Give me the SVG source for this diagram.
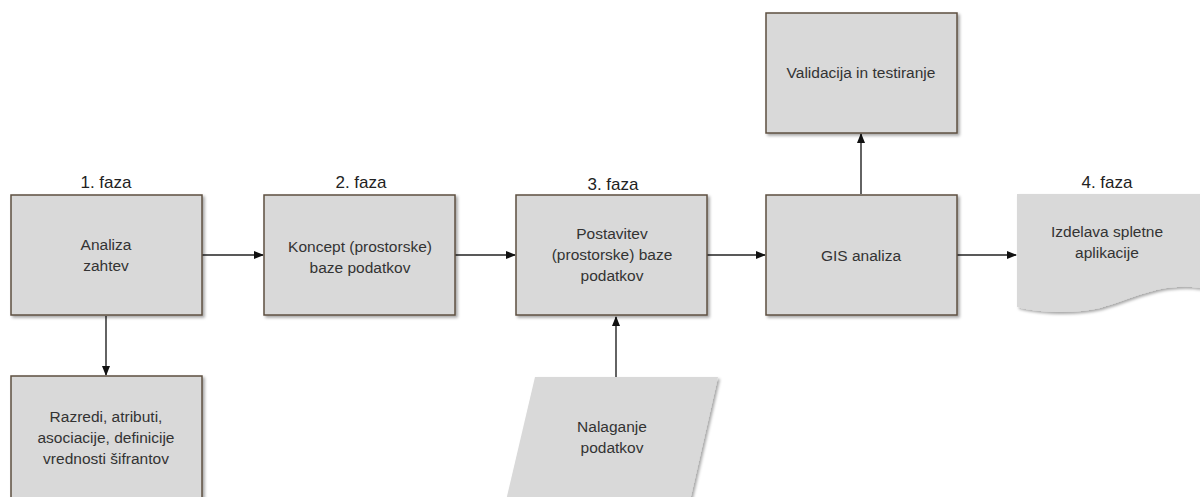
<svg xmlns="http://www.w3.org/2000/svg" width="1200" height="497" viewBox="0 0 1200 497">
<style>
.box{fill:#d9d9d9;stroke:#5e5040;stroke-width:1.5;filter:url(#sh)}
.doc{fill:#d9d9d9;stroke:none;filter:url(#sh)}
.t{font-family:"Liberation Sans",Arial,sans-serif;font-size:15.5px;fill:#333;text-anchor:middle}
.ph{font-family:"Liberation Sans",Arial,sans-serif;font-size:17px;fill:#222;text-anchor:middle}
.c{stroke:#222;stroke-width:1.4;fill:none;marker-end:url(#ah)}
</style>
<defs>
<filter id="sh" x="-10%" y="-10%" width="125%" height="130%">
<feDropShadow dx="2" dy="2" stdDeviation="1.5" flood-color="#000" flood-opacity="0.35"/>
</filter>
<marker id="ah" markerWidth="10" markerHeight="10" refX="9" refY="5" orient="auto" markerUnits="userSpaceOnUse">
<path d="M0,1 L10,5 L0,9 Z" fill="#111"/>
</marker>
</defs>
<rect width="1200" height="497" fill="#fff"/>
<g id="connectors">
<line class="c" x1="202" y1="255" x2="263" y2="255"/>
<line class="c" x1="455" y1="255" x2="515" y2="255"/>
<line class="c" x1="707" y1="255" x2="765" y2="255"/>
<line class="c" x1="957" y1="255" x2="1016" y2="255"/>
<line class="c" x1="106" y1="316" x2="106" y2="375"/>
<line class="c" x1="616" y1="377" x2="616" y2="317"/>
<line class="c" x1="861" y1="194" x2="861" y2="134"/>
</g>
<g id="phases">
<text class="ph" x="106" y="188">1. faza</text>
<text class="ph" x="361" y="188">2. faza</text>
<text class="ph" x="613" y="190">3. faza</text>
<text class="ph" x="1107" y="188">4. faza</text>
</g>
<g id="n1">
<rect class="box" x="11" y="195" width="191" height="120"/>
<text class="t" x="106" y="250">Analiza</text>
<text class="t" x="106" y="271">zahtev</text>
</g>
<g id="n2">
<rect class="box" x="264" y="195" width="191" height="120"/>
<text class="t" x="360" y="252">Koncept (prostorske)</text>
<text class="t" x="360" y="273">baze podatkov</text>
</g>
<g id="n3">
<rect class="box" x="516" y="195" width="191" height="120"/>
<text class="t" x="612" y="239">Postavitev</text>
<text class="t" x="612" y="260">(prostorske) baze</text>
<text class="t" x="612" y="281">podatkov</text>
</g>
<g id="n4">
<rect class="box" x="766" y="195" width="191" height="120"/>
<text class="t" x="861" y="261">GIS analiza</text>
</g>
<g id="n5">
<rect class="box" x="766" y="13" width="191" height="120"/>
<text class="t" x="861" y="78">Validacija in testiranje</text>
</g>
<g id="n6">
<path class="doc" d="M1017,194 H1200 V288 C1160,282 1130,300 1100,308 C1075,314 1040,313 1017,307 Z"/>
<text class="t" x="1107" y="237">Izdelava spletne</text>
<text class="t" x="1107" y="258">aplikacije</text>
</g>
<g id="n7">
<rect class="box" x="11" y="376" width="191" height="130"/>
<text class="t" x="106" y="422">Razredi, atributi,</text>
<text class="t" x="106" y="443">asociacije, definicije</text>
<text class="t" x="106" y="464">vrednosti šifrantov</text>
</g>
<g id="n8">
<path class="doc" d="M535,377 H718 L689,505 H505 Z"/>
<text class="t" x="612" y="432">Nalaganje</text>
<text class="t" x="612" y="453">podatkov</text>
</g>
</svg>
